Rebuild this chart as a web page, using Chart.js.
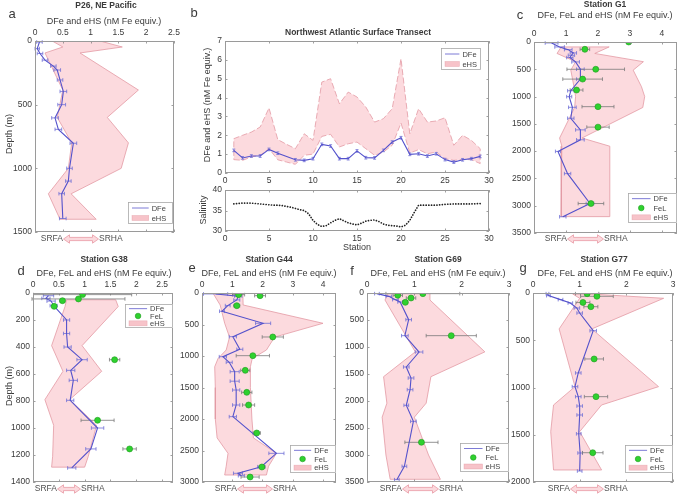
<!DOCTYPE html>
<html><head><meta charset="utf-8">
<script src="https://cdn.jsdelivr.net/npm/chart.js@4.4.0/dist/chart.umd.min.js"></script>
<style>
html,body{margin:0;padding:0;background:#fff;}
#wrap{position:relative;width:685px;height:496px;overflow:hidden;background:#fff;}
#wrap canvas{position:absolute;left:0;top:0;}
</style></head><body><div id="wrap"></div>
<script>
// ---------- Panel a : P26, NE Pacific ----------
const aDepth   = [8, 60, 98, 150, 197, 228, 306, 396, 500, 604, 694, 803, 1000, 1100, 1199, 1394];
const aDFe     = [0.08, 0.04, 0.09, 0.18, 0.33, 0.40, 0.45, 0.51, 0.48, 0.36, 0.42, 0.69, 0.62, 0.60, 0.48, 0.50];
const aDFeErr  = [0.05, 0.04, 0.05, 0.05, 0.05, 0.06, 0.05, 0.06, 0.07, 0.06, 0.06, 0.06, 0.05, 0.05, 0.05, 0.06];
const aHSDepth = [0, 47, 94, 385, 600, 800, 1000, 1200, 1400];
const aHSLow   = [0.31, 0.5, 0.18, 0.5, 0.4, 0.66, 0.6, 0.24, 0.45];
const aHSHigh  = [1.17, 1.57, 0.81, 1.86, 1.3, 1.68, 1.55, 0.65, 1.1];
const aXTicks  = [0, 0.5, 1, 1.5, 2, 2.5];
const aYTicks  = [0, 500, 1000, 1500];

// ---------- Panel b : Northwest Atlantic Surface Transect ----------
const bStation = [1,2,3,4,5,6,7,8,9,10,11,12,13,14,15,16,17,18,19,20,21,22,23,24,25,26,27,28,29];
const bDFe     = [1.2,0.8,0.9,0.9,1.25,1.05,null,0.7,0.67,0.76,1.52,1.43,0.76,0.76,1.17,0.81,0.8,1.2,1.64,1.87,0.99,1.02,0.9,1.02,0.71,0.58,0.7,0.76,0.88];
const bHSLow   = [0.71,0.67,0.85,0.94,1.29,0.7,0.58,0.46,0.94,1.0,1.94,2.05,1.38,1.55,1.64,1.29,0.94,1.11,1.47,2.65,1.06,1.24,1.02,1.11,0.76,0.67,0.71,0.71,0.5];
const bHSHigh  = [1.82,2.0,2.17,2.44,3.45,1.77,1.52,1.29,2.08,1.73,4.82,5.0,3.67,4.29,4.03,3.5,2.7,2.88,3.41,6.06,2.08,3.41,2.7,2.76,2.93,1.47,2.0,1.73,1.29];
const bSalStation = [1,1.5,2,2.5,3,3.5,4,4.5,5,5.5,6,6.5,7,7.5,8,8.5,9,9.5,10,10.5,11,11.5,12,12.5,13,13.5,14,14.5,15,15.5,16,16.5,17,17.5,18,18.5,19,19.5,20,20.5,21,21.5,22,22.5,23,24,25,26,27,28,29];
const bSalinity   = [36.6,36.7,36.8,36.8,36.8,36.7,36.6,36.5,36.4,36.3,36.3,36.2,36.0,35.8,35.5,35.2,35.0,34.2,32.6,31.6,31.1,31.3,32.0,32.6,33.0,32.5,32.0,31.7,31.5,31.9,32.4,32.6,32.7,32.3,31.7,31.4,31.3,31.2,31.0,31.4,32.6,34.5,36.3,36.3,36.3,36.3,36.5,36.6,36.6,36.6,36.7];
const bXTicks   = [0, 5, 10, 15, 20, 25, 30];
const bYTicks   = [0, 1, 2, 3, 4, 5, 6, 7];
const bSalTicks = [30, 35, 40];

// ---------- Panel c : Station G1 ----------
const cDepth   = [18, 91, 140, 200, 243, 285, 365, 498, 680, 893, 1002, 1197, 1397, 1610, 1792, 2005, 2412, 2959, 3202];
const cDFe     = [0.55, 0.8, 1.07, 1.23, 1.17, 1.12, 1.3, 1.45, 1.45, 1.15, 1.1, 1.2, 1.15, 1.45, 1.45, 0.75, 1.05, 1.75, 0.9];
const cDFeErr  = [0.2, 0.15, 0.12, 0.1, 0.1, 0.1, 0.12, 0.12, 0.12, 0.1, 0.08, 0.12, 0.1, 0.15, 0.12, 0.08, 0.1, 0.12, 0.1];
const cFeLDepth = [0, 134, 500, 680, 880, 1185, 1560, 2960];
const cFeL      = [2.96, 1.59, 1.93, 1.52, 1.33, 2.0, 2.0, 1.78];
const cFeLErr   = [0.0, 0.15, 0.9, 0.62, 0.2, 0.5, 0.35, 0.4];
const cHSDepth = [90, 210, 361, 516, 820, 1000, 1200, 1760, 1910, 3200];
const cHSLow   = [0.85, 0.72, 1.3, 1.15, 1.25, 1.3, 1.27, 0.8, 0.87, 0.85];
const cHSHigh  = [2.35, 1.9, 3.42, 3.1, 3.36, 3.46, 3.4, 1.5, 2.37, 2.35];
const cXTicks  = [0, 1, 2, 3, 4];
const cYTicks  = [0, 500, 1000, 1500, 2000, 2500, 3000, 3500];

// ---------- Panel d : Station G38 ----------
const dDepth   = [20, 40, 60, 94, 200, 300, 400, 494, 573, 647, 795, 1000, 1155, 1296];
const dDFe     = [0.3, 0.25, 0.35, 0.4, 0.65, 0.65, 0.67, 0.95, 0.73, 0.78, 0.72, 1.25, 1.12, 0.75];
const dDFeErr  = [0.1, 0.08, 0.08, 0.07, 0.06, 0.06, 0.07, 0.1, 0.08, 0.08, 0.07, 0.12, 0.1, 0.08];
const dFeLDepth = [12, 44, 57, 99, 494, 943, 1155];
const dFeL      = [0.96, 0.88, 0.57, 0.41, 1.58, 1.25, 1.87];
const dFeLErr   = [0.95, 0.9, 0.05, 0.04, 0.1, 0.32, 0.13];
const dHSDepth = [50, 100, 390, 580, 790, 980, 1210, 1290];
const dHSLow   = [0.65, 0.62, 0.36, 0.58, 0.23, 0.4, 0.38, 0.36];
const dHSHigh  = [1.6, 1.65, 0.95, 1.33, 0.71, 1.23, 1.07, 1.0];
const dXTicks  = [0, 0.5, 1, 1.5, 2, 2.5];
const dYTicks  = [0, 200, 400, 600, 800, 1000, 1200, 1400];

// ---------- Panel e : Station G44 ----------
const eDepth   = [15, 50, 110, 200, 290, 481, 693, 894, 1011, 1100, 1249, 1400, 1540, 1778, 1963, 2545, 2757, 2862, 2900];
const eDFe     = [0.45, 1.2, 1.15, 0.85, 0.66, 2.02, 1.02, 1.25, 0.69, 0.9, 1.08, 1.08, 1.13, 1.13, 1.02, 2.46, 1.96, 1.19, 1.3];
const eDFeErr  = [0.4, 0.12, 0.1, 0.08, 0.08, 0.25, 0.12, 0.1, 0.12, 0.1, 0.15, 0.15, 0.12, 0.12, 0.12, 0.25, 0.12, 0.15, 0.1];
const eFeLDepth = [26, 42, 201, 698, 995, 1228, 1577, 1778, 2222, 2762, 2921];
const eFeL      = [1.21, 1.92, 1.15, 2.34, 1.68, 1.43, 1.48, 1.54, 1.81, 1.98, 1.59];
const eFeLErr   = [0.2, 0.18, 0.1, 0.35, 0.55, 0.15, 0.17, 0.2, 0.12, 0.1, 0.3];
const eHSDepth = [0, 190, 481, 700, 905, 1040, 1170, 1500, 2000, 2300, 2545, 2750, 2889];
const eHSLow   = [0.36, 0.6, 0.75, 0.91, 0.8, 0.53, 0.42, 0.44, 0.44, 0.5, 0.86, 0.8, 0.75];
const eHSHigh  = [1.35, 1.36, 4.0, 2.4, 2.13, 1.66, 1.6, 1.6, 1.65, 1.7, 2.46, 2.2, 2.13];
const eXTicks  = [0, 1, 2, 3, 4];
const eYTicks  = [0, 500, 1000, 1500, 2000, 2500, 3000];

// ---------- Panel f : Station G69 ----------
const fDepth   = [12, 62, 123, 167, 494, 790, 1093, 1370, 1574, 1790, 2080, 2377, 3210, 3457];
const fDFe     = [0.21, 0.46, 0.6, 0.7, 0.88, 0.8, 1.1, 0.83, 0.93, 0.91, 0.83, 0.98, 0.79, 0.63];
const fDFeErr  = [0.05, 0.06, 0.06, 0.05, 0.06, 0.07, 0.08, 0.06, 0.06, 0.06, 0.05, 0.06, 0.05, 0.05];
const fFeLDepth = [12, 43, 93, 173, 790, 2765];
const fFeL      = [1.18, 0.65, 0.93, 0.81, 1.78, 1.15];
const fFeLErr   = [0.78, 0.1, 0.1, 0.05, 0.53, 0.35];
const fHSDepth = [0, 130, 1090, 1550, 2040, 2300, 3000, 3450];
const fHSLow   = [0.45, 0.38, 1.02, 0.35, 0.42, 0.32, 0.4, 0.49];
const fHSHigh  = [1.33, 1.33, 2.49, 1.35, 1.25, 1.0, 1.3, 1.55];
const fXTicks  = [0, 1, 2, 3];
const fYTicks  = [0, 500, 1000, 1500, 2000, 2500, 3000, 3500];

// ---------- Panel g : Station G77 ----------
const gDepth   = [7, 28, 70, 106, 159, 212, 399, 846, 991, 1097, 1196, 1291, 1490, 1693, 1884];
const gDFe     = [0.31, 0.33, 0.59, 0.8, 0.94, 1.0, 1.29, 0.97, 0.9, 0.97, 1.0, 1.0, 0.98, 1.01, 1.0];
const gDFeErr  = [0.03, 0.04, 0.05, 0.05, 0.06, 0.06, 0.07, 0.06, 0.06, 0.06, 0.06, 0.06, 0.05, 0.05, 0.05];
const gFeLDepth = [7, 35, 100, 145, 698, 1097, 1690];
const gFeL      = [1.16, 1.37, 1.07, 1.24, 1.31, 1.35, 1.28];
const gFeLErr   = [0.25, 0.35, 0.15, 0.15, 0.2, 0.25, 0.22];
const gHSDepth = [10, 56, 380, 991, 1185, 1467, 1873];
const gHSLow   = [0.85, 1.0, 0.56, 0.9, 0.44, 0.38, 0.44];
const gHSHigh  = [1.22, 2.8, 1.26, 2.69, 1.47, 1.0, 1.47];
const gXTicks  = [0, 1, 2, 3];
const gYTicks  = [0, 500, 1000, 1500, 2000];

// ================= drawing =================
const W = 685, H = 496;
const FONT = '"Liberation Sans", Arial, Helvetica, sans-serif';
const TXT = '#3a3a3a';
const BLUE = '#5452cc', BLUE_ERR = '#6f6fd6';
const GREEN = '#2fd12f', GREEN_EDGE = '#1c9a1c', GRAY_ERR = '#7a7a7a';
const PINK_FILL = 'rgba(251,208,213,0.78)', PINK_EDGE = 'rgba(226,150,160,0.85)';
function fnt(s, b) { return (b ? 'bold ' : '') + s + 'px ' + FONT; }

function profilePts(vals, depth) { return depth.map((d, i) => ({x: vals[i], y: d})); }
function profileBand(depth, low, high) {
  const a = depth.map((d, i) => ({x: low[i], y: d}));
  const b = depth.map((d, i) => ({x: high[i], y: d})).reverse();
  return a.concat(b, [a[0]]);
}
function seriesPts(xs, ys) { return xs.map((x, i) => ({x: x, y: ys[i]})); }
function seriesBand(xs, low, high) {
  const a = xs.map((x, i) => ({x: x, y: low[i]}));
  const b = xs.map((x, i) => ({x: x, y: high[i]})).reverse();
  return a.concat(b, [a[0]]);
}

function drawErrs(chart, errs) {
  const ctx = chart.ctx, xs = chart.scales.x, ys = chart.scales.y;
  ctx.save();
  for (const e of errs) {
    ctx.strokeStyle = e.color; ctx.lineWidth = 0.8;
    for (let i = 0; i < e.x.length; i++) {
      const vx = e.x[i], vy = e.y[i];
      if (vx == null || vy == null) continue;
      ctx.beginPath();
      if (e.ex) {
        const err = e.ex[i]; if (!err) continue;
        const p1 = xs.getPixelForValue(vx - err), p2 = xs.getPixelForValue(vx + err), py = ys.getPixelForValue(vy);
        ctx.moveTo(p1, py); ctx.lineTo(p2, py);
        ctx.moveTo(p1, py - 1.8); ctx.lineTo(p1, py + 1.8);
        ctx.moveTo(p2, py - 1.8); ctx.lineTo(p2, py + 1.8);
      } else if (e.ey) {
        const err = e.ey[i];
        const px = xs.getPixelForValue(vx), p1 = ys.getPixelForValue(vy - err), p2 = ys.getPixelForValue(vy + err);
        ctx.moveTo(px, p1); ctx.lineTo(px, p2);
        ctx.moveTo(px - 1.5, p1); ctx.lineTo(px + 1.5, p1);
        ctx.moveTo(px - 1.5, p2); ctx.lineTo(px + 1.5, p2);
      }
      ctx.stroke();
    }
  }
  ctx.restore();
}

function drawLegend(ctx, L) {
  ctx.save();
  ctx.fillStyle = '#fff'; ctx.fillRect(L.x, L.y, L.w, L.h);
  ctx.strokeStyle = '#a8a8a8'; ctx.lineWidth = 0.8; ctx.strokeRect(L.x + 0.5, L.y + 0.5, L.w - 1, L.h - 1);
  const n = L.items.length, rh = (L.h - 2) / n;
  L.items.forEach((it, i) => {
    const cy = L.y + 1 + rh * (i + 0.5);
    const s1 = L.x + 4, s2 = L.x + L.w * 0.46;
    if (it.type === 'line') {
      ctx.strokeStyle = '#7d7bd6'; ctx.lineWidth = 1;
      ctx.beginPath(); ctx.moveTo(s1, cy); ctx.lineTo(s2, cy); ctx.stroke();
    } else if (it.type === 'dot') {
      ctx.fillStyle = GREEN; ctx.strokeStyle = GREEN_EDGE; ctx.lineWidth = 0.6;
      ctx.beginPath(); ctx.arc((s1 + s2) / 2, cy, 2.8, 0, Math.PI * 2); ctx.fill(); ctx.stroke();
    } else {
      ctx.fillStyle = '#f7c3c9'; ctx.fillRect(s1, cy - 2.5, s2 - s1, 5);
      ctx.strokeStyle = 'rgba(226,150,160,0.6)'; ctx.lineWidth = 0.6; ctx.strokeRect(s1, cy - 2.5, s2 - s1, 5);
    }
    ctx.fillStyle = '#444'; ctx.font = fnt(7.5); ctx.textAlign = 'left'; ctx.textBaseline = 'middle';
    ctx.fillText(it.label, s2 + 3, cy + 0.5);
  });
  ctx.restore();
}

function drawArrowNote(ctx, A) {
  ctx.save();
  ctx.font = fnt(8.5); ctx.fillStyle = '#505050'; ctx.textBaseline = 'middle';
  ctx.textAlign = 'right'; ctx.fillText('SRFA', A.x1, A.y);
  ctx.textAlign = 'left'; ctx.fillText('SRHA', A.x2, A.y);
  const y = A.y, x1 = A.x1 + 0.5, x2 = A.x2 - 0.5, hl = 6, sh = 1.6, hh = 4.2;
  ctx.beginPath();
  ctx.moveTo(x1, y); ctx.lineTo(x1 + hl, y - hh); ctx.lineTo(x1 + hl, y - sh); ctx.lineTo(x2 - hl, y - sh);
  ctx.lineTo(x2 - hl, y - hh); ctx.lineTo(x2, y); ctx.lineTo(x2 - hl, y + hh); ctx.lineTo(x2 - hl, y + sh);
  ctx.lineTo(x1 + hl, y + sh); ctx.lineTo(x1 + hl, y + hh); ctx.closePath();
  ctx.fillStyle = '#fbd9dd'; ctx.fill();
  ctx.strokeStyle = '#eba3ad'; ctx.lineWidth = 0.9; ctx.stroke();
  ctx.restore();
}

function decoPlugin(spec) {
  return {
    id: 'deco',
    afterDatasetDraw(chart, args) {
      const ds = chart.data.datasets[args.index];
      if (ds.isBand && spec.errs) drawErrs(chart, spec.errs);
    },
    afterDraw(chart) {
      const ctx = chart.ctx, a = chart.chartArea, xs = chart.scales.x, ys = chart.scales.y;
      ctx.save();
      ctx.strokeStyle = '#777'; ctx.lineWidth = 0.7;
      ctx.beginPath();
      for (const v of spec.xTicks) {
        const p = Math.round(xs.getPixelForValue(v)) + 0.5;
        ctx.moveTo(p, a.top); ctx.lineTo(p, a.top + 2.5);
        ctx.moveTo(p, a.bottom); ctx.lineTo(p, a.bottom - 2.5);
      }
      for (const v of spec.yTicks) {
        const p = Math.round(ys.getPixelForValue(v)) + 0.5;
        ctx.moveTo(a.left, p); ctx.lineTo(a.left + 2.5, p);
        ctx.moveTo(a.right, p); ctx.lineTo(a.right - 2.5, p);
      }
      ctx.stroke();
      ctx.strokeStyle = '#9a9a9a'; ctx.lineWidth = 1;
      ctx.strokeRect(Math.round(a.left) + 0.5, Math.round(a.top) + 0.5, Math.round(a.right - a.left) - 1, Math.round(a.bottom - a.top) - 1);
      for (const t of (spec.texts || [])) {
        ctx.save();
        ctx.font = fnt(t.size || 9, t.bold); ctx.fillStyle = t.color || TXT;
        ctx.textAlign = 'center'; ctx.textBaseline = 'middle';
        ctx.translate(t.x, t.y);
        if (t.rot) ctx.rotate(-Math.PI / 2);
        ctx.fillText(t.t, 0, 0);
        ctx.restore();
      }
      if (spec.legend) drawLegend(ctx, spec.legend);
      if (spec.arrow) drawArrowNote(ctx, spec.arrow);
      ctx.restore();
    }
  };
}

function makeChart(spec) {
  const cv = document.createElement('canvas');
  cv.width = W; cv.height = H; cv.style.width = W + 'px'; cv.style.height = H + 'px';
  document.getElementById('wrap').appendChild(cv);
  const P = spec.plot, AX = 15, AY = Math.min(P.l, 34);
  const top = spec.xPos === 'top';
  const padding = {
    left: P.l - AY, right: W - P.r,
    top: top ? P.t - AX : P.t,
    bottom: top ? H - P.b : H - P.b - AX
  };
  const tickFont = {family: FONT, size: 8.5};
  new Chart(cv, {
    type: 'scatter',
    data: {datasets: spec.datasets},
    options: {
      responsive: false, maintainAspectRatio: false, animation: false, events: [],
      layout: {padding: padding, autoPadding: false},
      plugins: {legend: {display: false}, tooltip: {enabled: false}, title: {display: false}},
      scales: {
        x: {
          type: 'linear', position: spec.xPos, min: spec.xMin, max: spec.xMax,
          afterBuildTicks: s => { s.ticks = spec.xTicks.map(v => ({value: v})); },
          afterFit: s => { s.height = AX; },
          grid: {display: false, drawTicks: false, tickLength: 0}, border: {display: false},
          ticks: {font: tickFont, color: TXT, padding: 3, maxRotation: 0, autoSkip: false, callback: v => String(v)}
        },
        y: {
          type: 'linear', position: 'left', min: spec.yMin, max: spec.yMax, reverse: !!spec.yRev,
          afterBuildTicks: s => { s.ticks = spec.yTicks.map(v => ({value: v})); },
          afterFit: s => { s.width = AY; },
          grid: {display: false, drawTicks: false, tickLength: 0}, border: {display: false},
          ticks: {font: tickFont, color: TXT, padding: 3, autoSkip: false, callback: v => String(v)}
        }
      }
    },
    plugins: [decoPlugin(spec)]
  });
}

function bandDS(data, dashed) {
  return {data: data, isBand: true, showLine: true, fill: 'shape', backgroundColor: PINK_FILL,
          borderColor: PINK_EDGE, borderWidth: 0.9, borderDash: dashed ? [6, 2.5] : [], pointRadius: 0, order: 3};
}
function dfeDS(data) {
  return {data: data, showLine: true, spanGaps: true, borderColor: BLUE, borderWidth: 1.1, pointRadius: 0, order: 2, fill: false};
}
function felDS(data) {
  return {data: data, showLine: false, pointRadius: 3, backgroundColor: GREEN, borderColor: GREEN_EDGE, borderWidth: 0.6, order: 1};
}
const L3 = [{type: 'line', label: 'DFe'}, {type: 'dot', label: 'FeL'}, {type: 'band', label: 'eHS'}];
const L2 = [{type: 'line', label: 'DFe'}, {type: 'band', label: 'eHS'}];
const XL3 = 'DFe, FeL and eHS (nM Fe equiv.)';

function profileSpec(o) {
  const ds = [bandDS(profileBand(o.hsDepth, o.hsLow, o.hsHigh), false), dfeDS(profilePts(o.dfe, o.depth))];
  const errs = [{x: o.dfe, y: o.depth, ex: o.dfeErr, color: BLUE_ERR}];
  if (o.fel) {
    ds.push(felDS(profilePts(o.fel, o.felDepth)));
    errs.push({x: o.fel, y: o.felDepth, ex: o.felErr, color: GRAY_ERR});
  }
  return {plot: o.plot, xPos: 'top', xMin: 0, xMax: o.xMax, yMin: 0, yMax: o.yMax, yRev: true,
          xTicks: o.xTicks, yTicks: o.yTicks, datasets: ds, errs: errs, texts: o.texts, legend: o.legend, arrow: o.arrow};
}

makeChart(profileSpec({
  plot: {l: 35, t: 41, r: 174, b: 232}, xMax: 2.5, yMax: 1500, xTicks: aXTicks, yTicks: aYTicks,
  depth: aDepth, dfe: aDFe, dfeErr: aDFeErr, hsDepth: aHSDepth, hsLow: aHSLow, hsHigh: aHSHigh,
  texts: [{t: 'a', x: 12, y: 14, size: 13}, {t: 'P26, NE Pacific', x: 106, y: 6, size: 8.5, bold: true},
          {t: 'DFe and eHS (nM Fe equiv.)', x: 104, y: 22}, {t: 'Depth (m)', x: 10, y: 134, rot: true}],
  legend: {x: 128, y: 202, w: 45, h: 22, items: L2},
  arrow: {y: 239, x1: 63, x2: 99}
}));

makeChart({
  plot: {l: 225, t: 41, r: 489, b: 173}, xPos: 'bottom', xMin: 0, xMax: 30, yMin: 0, yMax: 7,
  xTicks: bXTicks, yTicks: bYTicks,
  datasets: [bandDS(seriesBand(bStation, bHSLow, bHSHigh), true), dfeDS(seriesPts(bStation, bDFe))],
  errs: [{x: bStation, y: bDFe, ey: bDFe.map(v => v == null ? 0 : 0.07), color: BLUE_ERR}],
  texts: [{t: 'b', x: 194, y: 13, size: 13}, {t: 'Northwest Atlantic Surface Transect', x: 358, y: 33, size: 8.5, bold: true},
          {t: 'DFe and eHS (nM Fe equiv.)', x: 208, y: 105, rot: true}],
  legend: {x: 441, y: 48, w: 40, h: 22, items: L2}
});

makeChart({
  plot: {l: 225, t: 190, r: 489, b: 231}, xPos: 'bottom', xMin: 0, xMax: 30, yMin: 30, yMax: 40,
  xTicks: bXTicks, yTicks: bSalTicks,
  datasets: [{data: seriesPts(bSalStation, bSalinity), showLine: true, borderColor: '#222', borderWidth: 1.7,
              borderDash: [0.1, 2.6], borderCapStyle: 'round', pointRadius: 0, fill: false}],
  texts: [{t: 'Salinity', x: 204, y: 210, rot: true}, {t: 'Station', x: 357, y: 248}]
});

makeChart(profileSpec({
  plot: {l: 534, t: 42, r: 677, b: 233}, xMax: 4.47, yMax: 3500, xTicks: cXTicks, yTicks: cYTicks,
  depth: cDepth, dfe: cDFe, dfeErr: cDFeErr, fel: cFeL, felDepth: cFeLDepth, felErr: cFeLErr,
  hsDepth: cHSDepth, hsLow: cHSLow, hsHigh: cHSHigh,
  texts: [{t: 'c', x: 520, y: 15, size: 13}, {t: 'Station G1', x: 605, y: 5, size: 8.5, bold: true},
          {t: XL3, x: 605, y: 16}],
  legend: {x: 628, y: 193, w: 49, h: 30, items: L3},
  arrow: {y: 239, x1: 567, x2: 604}
}));

makeChart(profileSpec({
  plot: {l: 33, t: 293, r: 173, b: 482}, xMax: 2.71, yMax: 1400, xTicks: dXTicks, yTicks: dYTicks,
  depth: dDepth, dfe: dDFe, dfeErr: dDFeErr, fel: dFeL, felDepth: dFeLDepth, felErr: dFeLErr,
  hsDepth: dHSDepth, hsLow: dHSLow, hsHigh: dHSHigh,
  texts: [{t: 'd', x: 21, y: 271, size: 13}, {t: 'Station G38', x: 104, y: 260, size: 8.5, bold: true},
          {t: XL3, x: 104, y: 274}, {t: 'Depth (m)', x: 10, y: 386, rot: true}],
  legend: {x: 125, y: 304, w: 48, h: 24, items: L3},
  arrow: {y: 489, x1: 57, x2: 81}
}));

makeChart(profileSpec({
  plot: {l: 202, t: 293, r: 336, b: 482}, xMax: 4.43, yMax: 3000, xTicks: eXTicks, yTicks: eYTicks,
  depth: eDepth, dfe: eDFe, dfeErr: eDFeErr, fel: eFeL, felDepth: eFeLDepth, felErr: eFeLErr,
  hsDepth: eHSDepth, hsLow: eHSLow, hsHigh: eHSHigh,
  texts: [{t: 'e', x: 192, y: 268, size: 13}, {t: 'Station G44', x: 269, y: 260, size: 8.5, bold: true},
          {t: XL3, x: 269, y: 274}],
  legend: {x: 290, y: 445, w: 46, h: 28, items: L3},
  arrow: {y: 489, x1: 237, x2: 273}
}));

makeChart(profileSpec({
  plot: {l: 367, t: 293, r: 509, b: 482}, xMax: 3, yMax: 3500, xTicks: fXTicks, yTicks: fYTicks,
  depth: fDepth, dfe: fDFe, dfeErr: fDFeErr, fel: fFeL, felDepth: fFeLDepth, felErr: fFeLErr,
  hsDepth: fHSDepth, hsLow: fHSLow, hsHigh: fHSHigh,
  texts: [{t: 'f', x: 352, y: 271, size: 13}, {t: 'Station G69', x: 438, y: 260, size: 8.5, bold: true},
          {t: XL3, x: 438, y: 274}],
  legend: {x: 460, y: 443, w: 49, h: 29, items: L3},
  arrow: {y: 489, x1: 402, x2: 439}
}));

makeChart(profileSpec({
  plot: {l: 533, t: 293, r: 673, b: 482}, xMax: 3, yMax: 2000, xTicks: gXTicks, yTicks: gYTicks,
  depth: gDepth, dfe: gDFe, dfeErr: gDFeErr, fel: gFeL, felDepth: gFeLDepth, felErr: gFeLErr,
  hsDepth: gHSDepth, hsLow: gHSLow, hsHigh: gHSHigh,
  texts: [{t: 'g', x: 523, y: 268, size: 13}, {t: 'Station G77', x: 604, y: 260, size: 8.5, bold: true},
          {t: XL3, x: 605, y: 274}],
  legend: {x: 625, y: 445, w: 48, h: 28, items: L3},
  arrow: {y: 489, x1: 570, x2: 604}
}));
</script>
</body></html>
